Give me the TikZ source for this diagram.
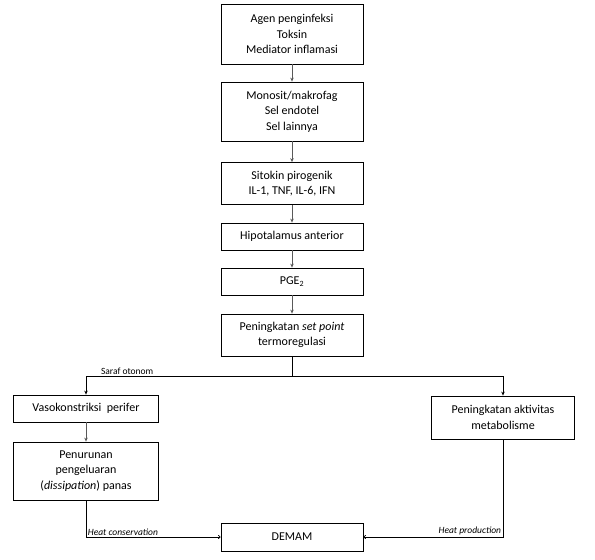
\documentclass[tikz,border=0pt]{standalone}
\usepackage{fontspec}
\setmainfont{Carlito}
\usetikzlibrary{arrows.meta}

\tikzset{
  box/.style={draw, line width=0.8pt, align=center, inner sep=0pt,
    minimum width=142pt, font=\fontsize{12}{15.5}\selectfont},
  flow/.style={draw=black!65, line width=0.8pt, -{Stealth[length=4pt,width=3.5pt]}},
  tailarrow/.style={draw, line width=0.8pt, -{To[length=2.5pt,width=4pt]}},
  note/.style={font=\fontsize{9.5}{10}\selectfont, inner sep=1.5pt}
}

\begin{document}
\begin{tikzpicture}[x=1pt, y=-1pt]
  \useasboundingbox (0,0) rectangle (595,560);

  % Main column
  \node[box, minimum height=60pt] (agen) at (292,34) {Agen penginfeksi\\Toksin\\Mediator inflamasi};
  \node[box, minimum height=59pt] (monosit) at (292,111.5) {Monosit/makrofag\\Sel endotel\\Sel lainnya};
  \node[box, minimum height=42pt] (sitokin) at (292,183.5) {Sitokin pirogenik\\IL-1, TNF, IL-6, IFN};
  \node[box, minimum height=27pt] (hipo) at (292,236.5) {Hipotalamus anterior};
  \node[box, minimum height=27pt] (pge) at (292,281.5) {PGE\textsubscript{2}};
  \node[box, minimum height=42pt] (setpoint) at (292,335) {Peningkatan \textit{set point}\\termoregulasi};

  % Branches
  \node[box, minimum width=145pt, minimum height=27pt] (vaso) at (86,408.5) {Vasokonstriksi\ \ perifer};
  \node[box, minimum width=145pt, minimum height=58pt] (turun) at (86,471) {Penurunan\\pengeluaran\\(\textit{dissipation}) panas};
  \node[box, minimum width=143pt, minimum height=43pt] (metab) at (503,417.5) {Peningkatan aktivitas\\metabolisme};
  \node[box, minimum height=28pt] (demam) at (292,537) {DEMAM};

  % Arrows down the column
  \draw[flow] (agen) -- (monosit);
  \draw[flow] (monosit) -- (sitokin);
  \draw[flow] (sitokin) -- (hipo);
  \draw[flow] (hipo) -- (pge);
  \draw[flow] (pge) -- (setpoint);

  % Split
  \coordinate (split) at (292,376);
  \draw[line width=0.8pt] (setpoint) -- (split);
  \draw[flow, draw=black] (split) -| (vaso) node[note, pos=0.4, anchor=south] {Saraf otonom};
  \draw[flow, draw=black] (split) -| (metab);
  \draw[flow] (vaso) -- (turun);

  % Into DEMAM
  \draw[tailarrow] (turun) |- (demam) node[note, pos=0.5, anchor=south west, font=\fontsize{9.5}{10}\selectfont\itshape] {Heat conservation};
  \draw[tailarrow] (metab) |- (demam) node[note, pos=0.5, anchor=south east, font=\fontsize{9.5}{10}\selectfont\itshape] {Heat production};
\end{tikzpicture}
\end{document}
